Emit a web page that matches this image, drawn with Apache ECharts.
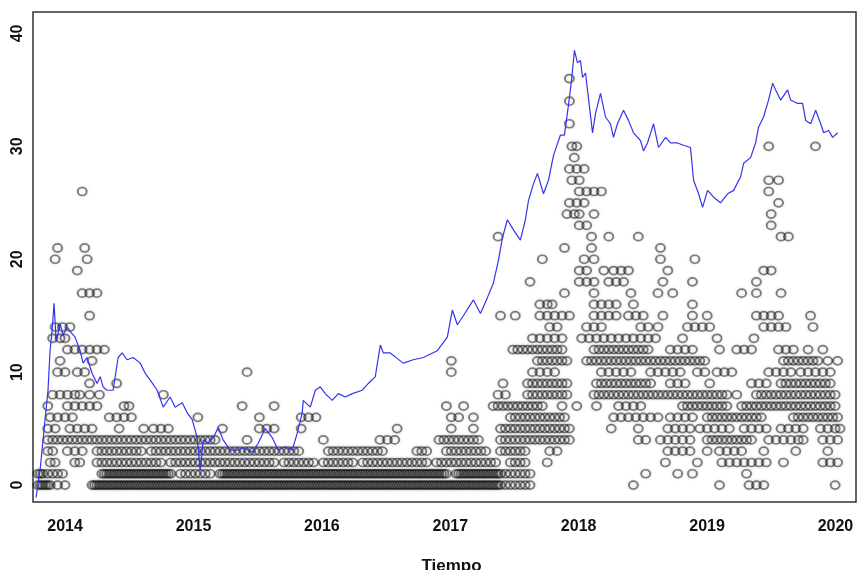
<!DOCTYPE html>
<html>
<head>
<meta charset="utf-8">
<script src="https://cdn.jsdelivr.net/npm/echarts@6/dist/echarts.min.js"></script>
<style>
  html, body { margin: 0; padding: 0; background: #fff; }
  #chart { width: 858px; height: 570px; }
</style>
</head>
<body>
<div id="chart"></div>
<script>
// Etiquetas de los ejes
const etiquetasX = [2014, 2015, 2016, 2017, 2018, 2019, 2020];
const etiquetasY = [0, 10, 20, 30, 40];

// Observaciones: para cada nivel (indice = valor en y) las semanas
// contadas desde el 1 de octubre de 2013 en que aparece un punto
const semanasPorNivel = [
  /* 0 */ [2,3,4,5,6,7,10,13,24,25,26,27,28,29,30,31,32,33,34,35,36,37,38,39,40,41,42,43,44,45,46,47,48,49,50,51,52,53,54,55,56,57,58,59,60,61,62,63,64,65,66,67,68,69,70,71,72,73,74,75,76,77,78,79,80,81,82,83,84,85,86,87,88,89,90,91,92,93,94,95,96,97,98,99,100,101,102,103,104,105,106,107,108,109,110,111,112,113,114,115,116,117,118,119,120,121,122,123,124,125,126,127,128,129,130,131,132,133,134,135,136,137,138,139,140,141,142,143,144,145,146,147,148,149,150,151,152,153,154,155,156,157,158,159,160,161,162,163,164,165,166,167,168,169,170,171,172,173,174,175,176,177,178,179,180,181,182,183,184,185,186,187,188,189,190,192,194,196,198,200,202,244,279,291,294,297,326],
  /* 1 */ [2,3,4,6,8,10,12,28,29,30,31,32,33,34,35,36,37,38,39,40,41,42,43,44,45,46,47,48,49,50,51,52,53,54,55,56,60,62,64,66,68,70,72,76,77,78,79,80,81,82,83,84,85,86,87,88,89,90,91,92,93,94,95,96,97,98,99,100,101,102,103,104,105,106,107,108,109,110,111,112,113,114,115,116,117,118,119,120,121,122,123,124,125,126,127,128,129,130,131,132,133,134,135,136,137,138,139,140,141,142,143,144,145,146,147,148,149,150,151,152,153,154,155,156,157,158,159,160,161,162,163,164,165,166,167,168,172,173,174,175,176,177,178,179,180,181,182,183,184,185,186,187,188,189,190,192,194,196,198,200,202,249,262,268,290],
  /* 2 */ [7,9,17,19,26,28,30,32,34,36,38,40,42,44,46,48,50,52,56,58,60,62,64,66,68,70,72,74,76,78,80,82,84,86,88,90,92,94,96,98,102,104,106,108,110,112,114,118,120,122,124,126,128,130,134,136,138,140,142,144,146,148,150,152,154,156,158,160,164,166,168,170,172,174,176,178,180,182,184,186,188,194,196,198,200,209,257,270,280,283,286,289,292,295,298,305,321,324,327],
  /* 3 */ [6,8,14,17,20,26,28,30,32,34,36,38,40,42,44,48,50,52,54,56,58,60,62,64,66,68,70,72,74,76,78,80,82,84,86,88,90,92,94,96,98,100,102,104,106,108,120,122,124,126,128,130,132,134,136,138,140,142,156,158,160,168,170,172,174,176,178,180,182,184,190,192,194,196,198,200,210,213,258,261,264,267,274,279,282,285,288,297,310,323],
  /* 4 */ [6,8,10,12,14,16,18,20,22,24,26,28,30,32,34,36,38,40,42,44,46,48,50,52,54,56,58,60,62,64,66,68,70,72,74,87,118,141,144,147,165,167,169,171,173,175,177,179,181,190,192,194,196,198,200,202,204,206,208,210,212,214,216,218,246,249,255,258,261,264,267,274,276,278,280,282,284,286,288,290,292,299,302,305,308,311,313,321,324,327],
  /* 5 */ [6,9,15,18,21,24,35,45,49,52,55,77,92,95,98,109,148,170,179,190,192,194,196,198,200,202,204,206,208,210,212,214,216,218,235,246,258,261,264,267,271,274,277,280,283,289,292,295,298,304,307,310,313,320,323,326,328],
  /* 6 */ [7,10,13,16,31,34,37,40,67,92,109,112,115,170,173,179,194,196,198,200,202,204,206,208,210,212,214,216,236,239,242,245,248,251,254,259,262,265,268,274,276,278,280,282,284,286,288,290,292,294,296,309,311,313,315,317,319,321,323,325,327],
  /* 7 */ [6,14,17,20,23,26,37,39,85,98,168,175,187,189,191,193,195,197,199,201,203,205,207,215,221,229,238,241,244,247,264,266,268,270,272,274,276,278,280,282,288,290,292,294,296,298,300,302,304,306,308,310,312,314,316,318,320,322,324,326],
  /* 8 */ [8,11,14,17,19,23,27,53,189,192,201,203,205,207,209,211,213,215,217,228,230,232,234,236,238,240,242,244,246,248,250,252,254,256,258,260,262,264,266,268,270,272,274,276,278,280,282,286,294,296,298,300,302,304,306,308,310,312,314,316,318,320,322,324,326],
  /* 9 */ [23,34,191,201,203,205,207,209,211,213,215,217,229,231,233,235,237,239,241,243,245,247,249,251,259,262,265,275,292,295,298,304,306,308,310,312,314,316,318,320,322,324],
  /* 10 */ [10,13,18,21,87,170,203,206,209,212,231,234,237,240,243,251,254,257,260,263,270,273,278,281,284,299,302,305,308,312,315,318,321,324],
  /* 11 */ [11,24,170,205,207,209,211,213,215,217,225,227,229,231,233,235,237,239,241,243,245,247,249,251,253,255,257,259,261,263,265,267,269,271,273,305,307,309,311,313,315,317,319,323,327],
  /* 12 */ [14,17,20,23,26,29,195,197,199,201,203,205,207,209,211,213,215,228,230,232,234,236,238,240,242,244,246,248,250,259,262,265,268,279,286,289,292,303,306,309,315,321],
  /* 13 */ [8,11,13,203,206,209,212,215,223,226,229,232,235,238,241,244,247,250,253,264,278,293],
  /* 14 */ [9,12,15,210,213,225,228,231,247,250,254,266,269,272,275,297,300,303,306,317],
  /* 15 */ [23,190,196,206,209,212,215,218,228,231,234,237,242,245,248,256,268,274,294,297,300,303,316],
  /* 16 */ [206,209,211,228,231,234,237,244,268],
  /* 17 */ [20,23,26,216,228,243,254,260,288,294,304],
  /* 18 */ [202,222,225,228,234,237,240,256,268,294],
  /* 19 */ [18,222,225,232,236,239,242,258,297,300],
  /* 20 */ [9,22,207,224,228,255,269],
  /* 21 */ [10,21,216,227,255],
  /* 22 */ [189,227,234,246,304,307],
  /* 23 */ [222,225,300],
  /* 24 */ [217,220,222,228,300],
  /* 25 */ [218,221,224,303],
  /* 26 */ [20,222,225,228,231,299],
  /* 27 */ [219,222,299,303],
  /* 28 */ [218,221,224],
  /* 29 */ [220],
  /* 30 */ [219,221,299,318],
  /* 31 */ [],
  /* 32 */ [218],
  /* 33 */ [],
  /* 34 */ [218],
  /* 35 */ [],
  /* 36 */ [218]
];

// Serie azul: tiempo (años decimales) y valor
const lineaAnio = [
  2013.774, 2013.805, 2013.836, 2013.867, 2013.883, 2013.899, 2013.914, 2013.930, 2013.938, 2013.961,
  2013.984, 2014.016, 2014.047, 2014.078, 2014.117, 2014.140, 2014.171, 2014.210, 2014.249, 2014.273,
  2014.296, 2014.327, 2014.374, 2014.413, 2014.444, 2014.483, 2014.530, 2014.585, 2014.624, 2014.663,
  2014.717, 2014.764, 2014.818, 2014.857, 2014.912, 2014.951, 2014.990, 2015.029, 2015.052, 2015.076,
  2015.115, 2015.154, 2015.193, 2015.231, 2015.286, 2015.341, 2015.387, 2015.458, 2015.504, 2015.559,
  2015.613, 2015.660, 2015.715, 2015.769, 2015.808, 2015.847, 2015.855, 2015.910, 2015.949, 2015.988,
  2016.026, 2016.081, 2016.128, 2016.182, 2016.237, 2016.315, 2016.362, 2016.416, 2016.455, 2016.479,
  2016.533, 2016.588, 2016.634, 2016.712, 2016.790, 2016.899, 2016.977, 2017.016, 2017.055, 2017.102,
  2017.180, 2017.235, 2017.289, 2017.336, 2017.375, 2017.406, 2017.445, 2017.492, 2017.546, 2017.585,
  2017.609, 2017.648, 2017.679, 2017.726, 2017.765, 2017.804, 2017.858, 2017.889, 2017.920, 2017.944,
  2017.967, 2017.991, 2018.014, 2018.030, 2018.053, 2018.076, 2018.108, 2018.131, 2018.170, 2018.209,
  2018.248, 2018.271, 2018.302, 2018.349, 2018.388, 2018.427, 2018.482, 2018.505, 2018.536, 2018.583,
  2018.622, 2018.677, 2018.715, 2018.770, 2018.817, 2018.871, 2018.895, 2018.934, 2018.965, 2019.004,
  2019.051, 2019.105, 2019.160, 2019.207, 2019.261, 2019.285, 2019.339, 2019.378, 2019.401, 2019.440,
  2019.479, 2019.511, 2019.534, 2019.573, 2019.627, 2019.651, 2019.705, 2019.744, 2019.768, 2019.807,
  2019.846, 2019.885, 2019.908, 2019.947, 2019.978, 2020.017
];
const lineaValor = [
  -1.1, 1.3, 4.9, 8.4, 11.9, 13.7, 16.1, 12.8, 13.1, 14.3,
  13.3, 14.0, 13.5, 13.1, 11.9, 10.8, 11.3, 9.9, 9.0, 9.6,
  8.7, 8.4, 8.4, 11.3, 11.7, 11.1, 11.3, 10.8, 9.9, 9.3,
  8.4, 6.9, 7.8, 6.9, 7.3, 6.4, 5.8, 4.2, 1.3, 4.0,
  3.7, 4.2, 5.1, 4.0, 3.1, 3.1, 3.3, 2.9, 3.7, 5.0,
  4.2, 3.1, 3.4, 3.1, 4.6, 6.4, 7.5, 6.9, 8.4, 8.7,
  8.1, 7.5, 8.1, 7.8, 8.1, 8.4, 9.0, 9.6, 12.4, 11.7,
  11.7, 11.2, 10.8, 11.1, 11.3, 11.9, 13.1, 15.5, 14.2, 15.0,
  16.4, 15.2, 16.6, 17.9, 19.9, 21.9, 23.5, 22.6, 21.7, 23.5,
  25.2, 26.7, 27.6, 25.8, 27.0, 29.2, 31.0, 31.0, 33.6, 35.8,
  38.5, 37.4, 37.6, 36.1, 36.5, 34.3, 31.2, 32.9, 34.7, 32.6,
  32.0, 30.8, 32.0, 33.2, 32.3, 31.2, 30.5, 29.6, 30.3, 32.0,
  29.9, 30.8, 30.3, 30.3, 30.1, 29.9, 27.0, 25.8, 24.6, 26.1,
  25.5, 25.0, 25.8, 26.1, 27.3, 28.5, 29.0, 30.3, 31.7, 32.6,
  34.1, 35.6, 35.0, 34.1, 35.0, 34.1, 33.8, 33.8, 32.3, 32.0,
  33.2, 32.0, 31.2, 31.4, 30.8, 31.2
];

const INICIO = 2013.75;          // 1 de octubre de 2013
const SEMANAS_POR_ANIO = 52.18;

const puntos = [];
semanasPorNivel.forEach((semanas, nivel) => {
  semanas.forEach(s => puntos.push([INICIO + s / SEMANAS_POR_ANIO, nivel]));
});
const linea = lineaAnio.map((a, i) => [a, lineaValor[i]]);

const chart = echarts.init(document.getElementById('chart'));

const textoEje = {
  color: '#111',
  fontFamily: 'Liberation Sans, Arial, sans-serif',
  fontWeight: 'bold',
  fontSize: 16
};

chart.setOption({
  animation: false,
  backgroundColor: '#fff',
  grid: {
    left: 33,
    right: 2,
    top: 12,
    bottom: 68,
    show: true,
    borderColor: '#333',
    borderWidth: 1.5,
    outerBoundsMode: 'none'
  },
  xAxis: {
    type: 'value',
    min: 2013.75,
    max: 2020.16,
    name: 'Tiempo',
    nameLocation: 'middle',
    nameGap: 56,
    nameTextStyle: Object.assign({}, textoEje, { fontSize: 17, padding: [0, 0, 0, 14] }),
    axisLine: { show: false },
    axisTick: { show: false },
    splitLine: { show: false },
    axisLabel: Object.assign({}, textoEje, {
      customValues: etiquetasX,
      margin: 17,
      formatter: v => String(Math.round(v))
    })
  },
  yAxis: {
    type: 'value',
    min: -1.5,
    max: 41.9,
    axisLine: { show: false },
    axisTick: { show: false },
    splitLine: { show: false },
    axisLabel: Object.assign({}, textoEje, {
      customValues: etiquetasY,
      rotate: 90,
      margin: 7,
      formatter: v => String(Math.round(v))
    })
  },
  series: [
    {
      type: 'scatter',
      data: puntos,
      symbol: 'circle',
      symbolSize: [9, 8],
      silent: true,
      itemStyle: {
        color: 'rgba(0,0,0,0)',
        borderColor: 'rgba(0,0,0,0.6)',
        borderWidth: 1.8,
        shadowBlur: 3,
        shadowColor: 'rgba(0,0,0,0.35)'
      },
      z: 2
    },
    {
      type: 'line',
      data: linea,
      showSymbol: false,
      silent: true,
      lineStyle: { color: '#3434ee', width: 1.2 },
      z: 3
    }
  ]
});
</script>
</body>
</html>
